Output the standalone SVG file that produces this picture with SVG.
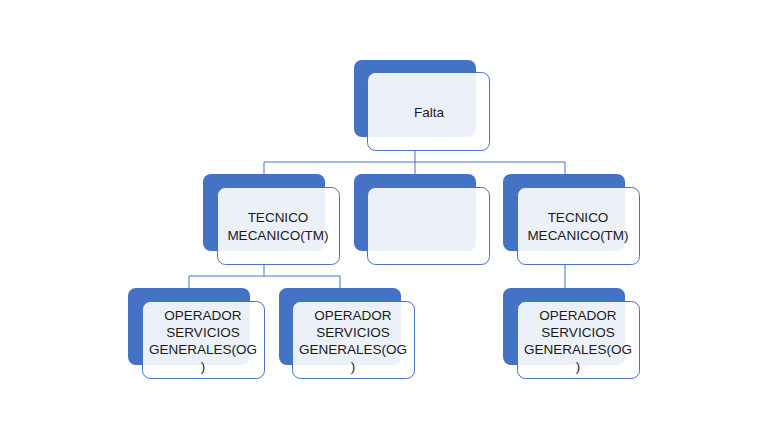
<svg xmlns="http://www.w3.org/2000/svg" width="768" height="433" viewBox="0 0 768 433">
<style>
.back{fill:#4472C4}
.front{fill:#FFFFFF;fill-opacity:0.9;stroke:#4472C4;stroke-width:1}
.lbl{font-family:"Liberation Sans",Arial,sans-serif;font-size:13.5px;fill:#1a1a1a;text-anchor:middle}
.conn{fill:none;stroke:#4472C4;stroke-width:1}
</style>
<rect width="768" height="433" fill="#FFFFFF"/>
<g id="connectors">
<path class="conn" d="M415 151V162M264 162H565M264 162V174M415 162V174M565 162V174"/>
<path class="conn" d="M264 264V276M189 276H340M189 276V288M340 276V288"/>
<path class="conn" d="M565 265V288"/>
</g>
<g id="node-falta">
<rect class="back" x="354" y="60" width="122" height="77" rx="8"/>
<rect class="front" x="367.5" y="72.5" width="122" height="78" rx="8"/>
<text class="lbl" x="429" y="117">Falta</text>
</g>
<g id="node-tm-left">
<rect class="back" x="203" y="174" width="122" height="77" rx="8"/>
<rect class="front" x="217.5" y="187.5" width="122" height="77" rx="8"/>
<text class="lbl" x="278" y="222">TECNICO</text>
<text class="lbl" x="278" y="240">MECANICO(TM)</text>
</g>
<g id="node-empty">
<rect class="back" x="354" y="174" width="122" height="77" rx="8"/>
<rect class="front" x="367.5" y="187.5" width="122" height="77" rx="8"/>
</g>
<g id="node-tm-right">
<rect class="back" x="503" y="174" width="122" height="77" rx="8"/>
<rect class="front" x="517.5" y="187.5" width="122" height="77" rx="8"/>
<text class="lbl" x="578" y="222">TECNICO</text>
<text class="lbl" x="578" y="240">MECANICO(TM)</text>
</g>
<g id="node-og-1">
<rect class="back" x="128" y="288" width="122" height="77" rx="8"/>
<rect class="front" x="142.5" y="301.5" width="122" height="77" rx="8"/>
<text class="lbl" x="203" y="320">OPERADOR</text>
<text class="lbl" x="203" y="337">SERVICIOS</text>
<text class="lbl" x="203" y="354">GENERALES(OG</text>
<text class="lbl" x="203" y="371">)</text>
</g>
<g id="node-og-2">
<rect class="back" x="279" y="288" width="122" height="77" rx="8"/>
<rect class="front" x="292.5" y="301.5" width="122" height="77" rx="8"/>
<text class="lbl" x="353" y="320">OPERADOR</text>
<text class="lbl" x="353" y="337">SERVICIOS</text>
<text class="lbl" x="353" y="354">GENERALES(OG</text>
<text class="lbl" x="353" y="371">)</text>
</g>
<g id="node-og-3">
<rect class="back" x="503" y="288" width="122" height="77" rx="8"/>
<rect class="front" x="517.5" y="301.5" width="122" height="77" rx="8"/>
<text class="lbl" x="578" y="320">OPERADOR</text>
<text class="lbl" x="578" y="337">SERVICIOS</text>
<text class="lbl" x="578" y="354">GENERALES(OG</text>
<text class="lbl" x="578" y="371">)</text>
</g>
</svg>
